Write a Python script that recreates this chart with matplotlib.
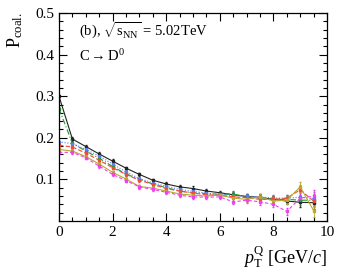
import numpy as np
import matplotlib
matplotlib.use("Agg")
import matplotlib.pyplot as plt
from matplotlib.ticker import MultipleLocator

plt.rcParams['font.family'] = ['Liberation Serif', 'DejaVu Serif']
plt.rcParams['mathtext.fontset'] = 'custom'
plt.rcParams['mathtext.rm'] = 'Liberation Serif'
plt.rcParams['mathtext.it'] = 'Liberation Serif:italic'

# pT bins (GeV/c)
pt = [0, 0.5, 1, 1.5, 2, 2.5, 3, 3.5, 4, 4.5, 5, 5.5, 6, 6.5, 7, 7.5, 8, 8.5, 9, 9.5]

# coalescence probability curves
p_black = [0.300, 0.197, 0.179, 0.161, 0.144, 0.127, 0.112, 0.098, 0.089, 0.082,
           0.078, 0.072, 0.068, 0.063, 0.059, 0.057, 0.052, 0.048, 0.045, 0.044]
p_green = [0.270, 0.187, 0.168, 0.151, 0.131, 0.113, 0.100, 0.089, 0.080, 0.072,
           0.068, 0.066, 0.064, 0.065, 0.058, 0.055, 0.052, 0.052, 0.050, 0.050]
p_blue = [0.190, 0.186, 0.172, 0.156, 0.137, 0.118, 0.102, 0.092, 0.083, 0.076,
          0.071, 0.067, 0.064, 0.061, 0.060, 0.058, 0.055, 0.055, 0.057, 0.054]
p_red = [0.182, 0.178, 0.163, 0.146, 0.128, 0.112, 0.098, 0.088, 0.078, 0.072,
         0.067, 0.063, 0.062, 0.058, 0.056, 0.052, 0.052, 0.055, 0.075, 0.048]
p_olive = [0.172, 0.168, 0.155, 0.137, 0.117, 0.101, 0.083, 0.079, 0.072, 0.065,
           0.062, 0.060, 0.062, 0.055, 0.052, 0.058, 0.048, 0.050, 0.082, 0.025]
p_magenta = [0.165, 0.165, 0.152, 0.132, 0.112, 0.097, 0.082, 0.076, 0.069, 0.062,
             0.058, 0.057, 0.058, 0.046, 0.050, 0.046, 0.040, 0.023, 0.055, 0.060]

# statistical errors (rough)
err = [0.003, 0.004, 0.004, 0.004, 0.004, 0.004, 0.004, 0.004, 0.004, 0.004,
       0.005, 0.005, 0.005, 0.006, 0.006, 0.007, 0.007, 0.008, 0.012, 0.015]

series = [
    (p_black, '#222222', '-'),
    (p_green, '#1f9a2a', (0, (5, 2, 1, 2))),
    (p_blue, '#5a7ff0', (0, (1, 1.5))),
    (p_red, '#f04a3a', (0, (4, 2))),
    (p_olive, '#b8a830', '-'),
    (p_magenta, '#f040f0', (0, (3, 2))),
]

fig = plt.figure(figsize=(3.47, 2.75), dpi=100)
ax = fig.add_axes([59 / 347, 1 - 221 / 275, 268 / 347, 208 / 275])

for vals, col, ls in series:
    ax.errorbar(pt, vals, yerr=err, color=col, linestyle=ls, linewidth=0.8,
                marker='s', markersize=1.6, elinewidth=0.6, capsize=1.0)

ax.set_xlim(0, 10)
ax.set_ylim(0, 0.5)
ax.set_xticks([0, 2, 4, 6, 8, 10])
ax.xaxis.set_minor_locator(MultipleLocator(0.5))
ax.set_yticks([0.1, 0.2, 0.3, 0.4, 0.5])
ax.yaxis.set_minor_locator(MultipleLocator(0.02))
ax.tick_params(which='both', direction='in', top=True, right=True, labelsize=11, width=0.8)
ax.tick_params(which='major', length=6)
ax.tick_params(which='minor', length=3)
for s in ax.spines.values():
    s.set_linewidth(0.9)

ax.text(0.075, 0.89, r'(b), $\sqrt{\mathrm{s_{NN}}}$ = 5.02TeV', transform=ax.transAxes, fontsize=10.5)
ax.text(0.075, 0.77, r'C$\rightarrow$D$^0$', transform=ax.transAxes, fontsize=10.5)

fig.text(15 / 347, 1 - 30 / 275, r'P$_{\mathrm{coal.}}$', rotation=90, fontsize=13,
         ha='center', va='center')
fig.text(327 / 347, 1 - 257 / 275, r'$p_{\mathrm{T}}^{\mathrm{Q}}$ [GeV/$c$]', fontsize=13,
         ha='right', va='center')

fig.savefig('out.png', dpi=100)
